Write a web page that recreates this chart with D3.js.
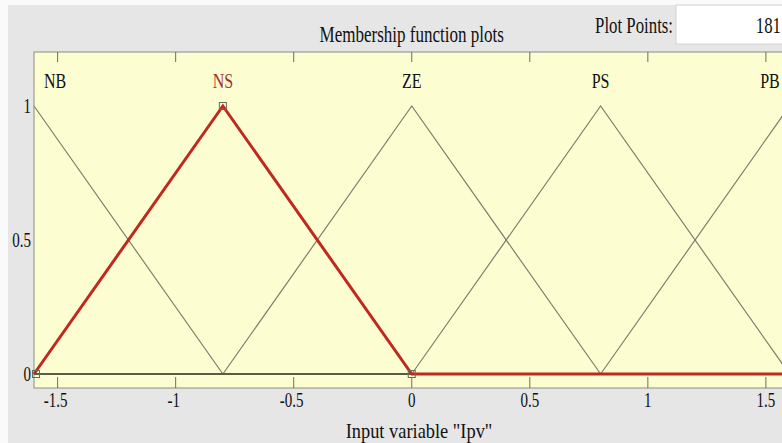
<!DOCTYPE html>
<html>
<head>
<meta charset="utf-8">
<script src="https://cdn.jsdelivr.net/npm/d3@7"></script>
<style>
  html, body { margin: 0; padding: 0; background: #fafafa; }
  svg { display: block; }
</style>
</head>
<body>
<svg id="chart" width="782" height="443"></svg>
<script>
// Membership functions of input variable "Ipv" (triangular: [a, peak, c])
const mfNames = ["NB", "NS", "ZE", "PS", "PB"];
const mfParams = [
  [-2.4, -1.6, -0.8],
  [-1.6, -0.8, 0],
  [-0.8, 0, 0.8],
  [0, 0.8, 1.6],
  [0.8, 1.6, 2.4]
];
const selectedMf = 1;            // NS is the highlighted function
const inputRange = [-1.6, 1.6];
const xTickValues = [-1.5, -1, -0.5, 0, 0.5, 1, 1.5];
const yTickValues = [0, 0.5, 1];
const plotPoints = 181;
const titleText = "Membership function plots";
const xLabelText = "Input variable \"Ipv\"";

const W = 782, H = 443;
const plot = { left: 34, top: 52, right: 789.5, bottom: 388 };

const svg = d3.select("#chart");
const FONT = "'Liberation Serif', 'Times New Roman', serif";

// window background
svg.append("rect").attr("x", 8).attr("y", 5).attr("width", W - 8).attr("height", H - 5)
  .attr("fill", "#e6e6e6");

const x = d3.scaleLinear().domain(inputRange).range([plot.left, plot.right]);
const y = d3.scaleLinear().domain([0, 1]).range([374, 106]);

// plain hyphen for negative numbers
const fmt = v => d3.format("~g")(v).replace("\u2212", "-");

// horizontally condensed text helper
function txt(px, py, s, o = {}) {
  return svg.append("text")
    .attr("transform", `translate(${px},${py}) scale(${o.sx || 0.75},1)`)
    .attr("text-anchor", o.anchor || "middle")
    .attr("font-family", FONT)
    .attr("font-size", o.size || 20)
    .attr("fill", o.fill || "#111")
    .text(s);
}

// header: title, plot-points field
txt((plot.left + plot.right) / 2, 42, titleText, { size: 24, sx: 0.71 });
txt(673, 33, "Plot Points:", { size: 24, sx: 0.70, anchor: "end" });
svg.append("rect").attr("x", 676).attr("y", 5).attr("width", 120).attr("height", 39)
  .attr("fill", "#ffffff").attr("stroke", "#d0d0d0").attr("stroke-width", 1);
txt(781, 33, String(plotPoints), { size: 24, sx: 0.70, anchor: "end" });

// plot area
svg.append("rect")
  .attr("x", plot.left).attr("y", plot.top)
  .attr("width", plot.right - plot.left).attr("height", plot.bottom - plot.top)
  .attr("fill", "#fdfdd2").attr("stroke", "#8c8c80").attr("stroke-width", 1);

// ticks (inward, top and bottom)
const tickColor = "#6e6e60";
xTickValues.forEach(v => {
  svg.append("line").attr("x1", x(v)).attr("x2", x(v)).attr("y1", plot.top).attr("y2", plot.top + 10)
    .attr("stroke", tickColor).attr("stroke-width", 1);
  svg.append("line").attr("x1", x(v)).attr("x2", x(v)).attr("y1", plot.bottom).attr("y2", plot.bottom - 11)
    .attr("stroke", tickColor).attr("stroke-width", 1);
});

// axis tick labels
xTickValues.forEach(v => txt(x(v) - (v < 0 ? 2 : 0), 407, fmt(v)));
yTickValues.forEach(v => txt(31, y(v) + 7, fmt(v), { anchor: "end" }));

// x label
txt(419, 438, xLabelText, { sx: 0.92 });

// triangular MF vertices inside the input range
function trimf(p, v) {
  const [a, b, c] = p;
  if (v <= a || v >= c) return 0;
  return v <= b ? (v - a) / (b - a) : (c - v) / (c - b);
}
function vertices(p) {
  const xs = [inputRange[0], ...p, inputRange[1]]
    .filter(v => v >= inputRange[0] && v <= inputRange[1]);
  return Array.from(new Set(xs)).sort((m, n) => m - n).map(v => [v, trimf(p, v)]);
}
const line = d3.line().x(d => x(d[0])).y(d => y(d[1]));

const mfLayer = svg.append("g");
mfParams.forEach((p, i) => {
  if (i === selectedMf) return;
  mfLayer.append("path").attr("d", line(vertices(p)))
    .attr("fill", "none").attr("stroke", "#7d806a").attr("stroke-width", 1.2);
});
// dark baseline from overlapping zero segments
mfLayer.append("line").attr("x1", plot.left).attr("x2", plot.right).attr("y1", y(0)).attr("y2", y(0))
  .attr("stroke", "#4a4a3a").attr("stroke-width", 1.6);

// highlighted MF
mfLayer.append("path").attr("d", line(vertices(mfParams[selectedMf])))
  .attr("fill", "none").attr("stroke", "#c02820").attr("stroke-width", 3)
  .attr("stroke-linejoin", "miter");

// parameter handles of the highlighted MF
mfParams[selectedMf].forEach(v => {
  if (v < inputRange[0] || v > inputRange[1]) return;
  const vx = Math.max(plot.left + 2, x(v)), vy = y(trimf(mfParams[selectedMf], v));
  mfLayer.append("rect").attr("x", vx - 3.5).attr("y", vy - 3.5).attr("width", 7).attr("height", 7)
    .attr("fill", "none").attr("stroke", "#6a6a58").attr("stroke-width", 1);
});

// MF names above each peak (kept inside the visible area)
mfParams.forEach((p, i) => {
  const px = Math.min(Math.max(x(p[1]), plot.left + 21), W - 12);
  txt(px, 88, mfNames[i], { fill: i === selectedMf ? "#a5322a" : "#111", sx: 0.8 });
});
</script>
</body>
</html>
